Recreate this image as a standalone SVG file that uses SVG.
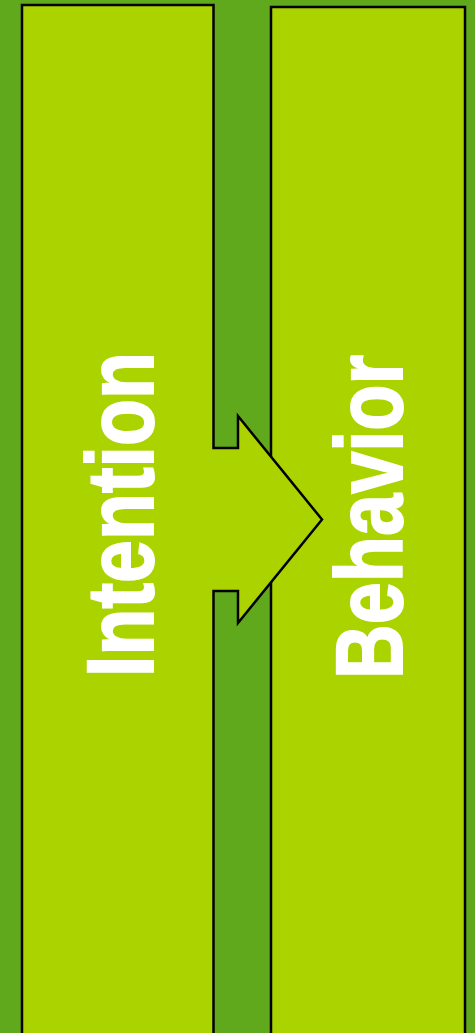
<svg xmlns="http://www.w3.org/2000/svg" width="475" height="1033" viewBox="0 0 475 1033">
<style>
.box{fill:#AAD300;stroke:#000;stroke-width:2.5;stroke-linejoin:miter}
.lbl{fill:#fff;stroke:#fff;stroke-width:2;font-family:"Liberation Sans Narrow","Liberation Sans",Arial,sans-serif;font-weight:bold;font-size:94px}
</style>
<rect x="0" y="0" width="475" height="1033" fill="#60A81C"/>
<g id="behavior">
<rect class="box" x="271" y="7" width="194" height="1040"/>
<text class="lbl" transform="translate(402,679) rotate(-90)" textLength="324" lengthAdjust="spacingAndGlyphs">Behavior</text>
</g>
<g id="intention">
<path class="box" d="M22,1045 L22,5 L213.5,5 L213.5,448 L238,448 L238,416 L322,519.5 L238,623 L238,591 L213.5,591 L213.5,1045 Z"/>
<text class="lbl" transform="translate(153,677) rotate(-90)" textLength="325" lengthAdjust="spacingAndGlyphs">Intention</text>
</g>
<g id="connectors"></g>
</svg>
